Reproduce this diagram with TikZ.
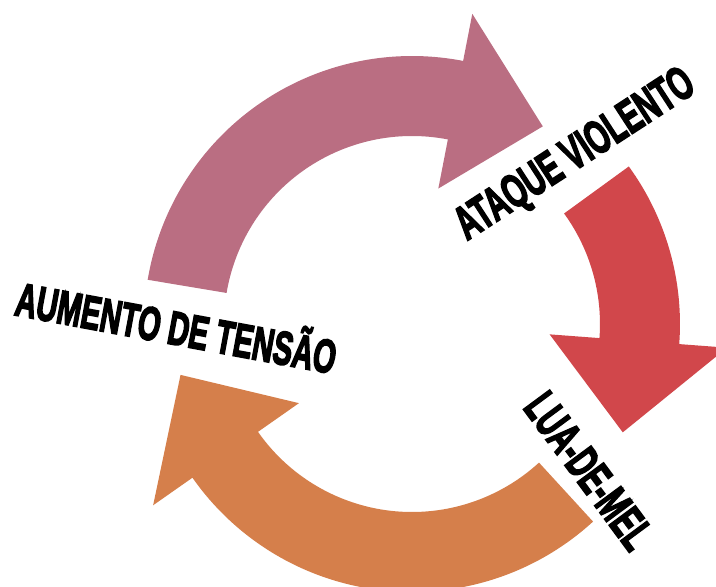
\documentclass[tikz,border=0pt]{standalone}
\usepackage{fontspec}
\newfontfamily\phasefont[FakeBold=4]{Liberation Sans}
\definecolor{tensaopink}{HTML}{BA6E82}
\definecolor{ataquered}{HTML}{D1474B}
\definecolor{melorange}{HTML}{D57F4B}

\begin{document}
\begin{tikzpicture}[x=1pt,y=1pt,
    phase/.style={font=\phasefont\bfseries\fontsize{47}{52}\selectfont,inner sep=0pt,xscale=0.62}]
  \useasboundingbox (-412,-263) rectangle (304,324);
  \fill[tensaopink] (170.5:268) arc[start angle=170.5,end angle=79,radius=268]
    -- (79:316) -- (56.5:237) -- (79:138) -- (79:188)
    arc[start angle=79,end angle=170.5,radius=188] -- cycle;
  \fill[ataquered] (36:268) arc[start angle=36,end angle=-4.3,radius=268]
    -- (-4.3:316) -- (-27.2:237) -- (-4.3:138) -- (-4.3:188)
    arc[start angle=-4.3,end angle=36,radius=188] -- cycle;
  \fill[melorange] (-47.5:268) arc[start angle=-47.5,end angle=-145,radius=268]
    -- (-145:316) -- (-167.6:237) -- (-145:138) -- (-145:188)
    arc[start angle=-145,end angle=-47.5,radius=188] -- cycle;
  \node[rotate=-10.5,phase] (tensao) at (-235,0) {AUMENTO DE TENSÃO};
  \node[rotate=33,phase] (ataque) at (164,168) {ATAQUE VIOLENTO};
  \node[rotate=-53.5,phase] (lua) at (177,-147) {LUA-DE-MEL};
\end{tikzpicture}
\end{document}
